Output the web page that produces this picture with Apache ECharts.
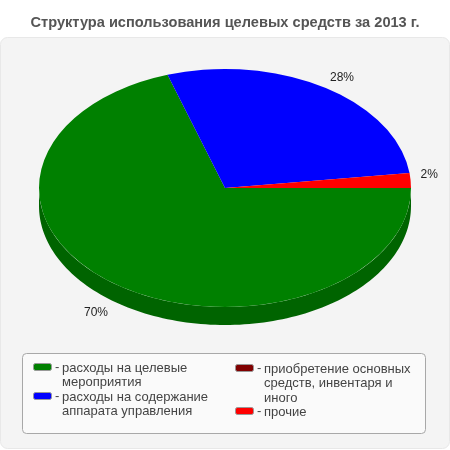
<!DOCTYPE html>
<html><head><meta charset="utf-8">
<style>html,body{margin:0;padding:0;background:#fff}#c{width:450px;height:450px}</style>
<script src="https://cdn.jsdelivr.net/npm/echarts@6/dist/echarts.min.js"></script>
</head><body><div id="c"></div>
<script>
const titleText = 'Структура использования целевых средств за 2013 г.';
const categories = ['расходы на целевые мероприятия','расходы на содержание аппарата управления','приобретение основных средств, инвентаря и иного','прочие'];
const values = [70, 28, 0, 2];
const colors = ['#008000', '#0000ff', '#800000', '#ff0000'];
const legendLines = [
  ['расходы на целевые','мероприятия'],
  ['расходы на содержание','аппарата управления'],
  ['приобретение основных','средств, инвентаря и','иного'],
  ['прочие']
];

const cx = 225, cy = 188, rx = 186, ry = 119, depth = 18;
const total = values.reduce((a, b) => a + b, 0);
const sideShade = 0.78;
function shade(hex) {
  const n = parseInt(hex.slice(1), 16);
  const f = c => Math.round(c * sideShade);
  return 'rgb(' + f(n >> 16) + ',' + f((n >> 8) & 255) + ',' + f(n & 255) + ')';
}
function renderSlice(params, api) {
  const i = api.value(0), v = api.value(1);
  if (!v) return {type: 'group', children: []};
  let before = 0;
  for (let k = 0; k < i; k++) before += values[k];
  const a0 = before / total * Math.PI * 2;
  const a1 = (before + v) / total * Math.PI * 2;
  const children = [];
  if (a0 < Math.PI) {
    const end = Math.min(a1, Math.PI), pts = [];
    const n = 120;
    for (let s = 0; s <= n; s++) {
      const t = a0 + (end - a0) * s / n;
      pts.push([cx + rx * Math.cos(t), cy + ry * Math.sin(t)]);
    }
    for (let s = n; s >= 0; s--) {
      const t = a0 + (end - a0) * s / n;
      pts.push([cx + rx * Math.cos(t), cy + depth + ry * Math.sin(t)]);
    }
    children.push({type: 'polygon', shape: {points: pts}, style: {fill: shade(colors[i])}});
  }
  children.push({
    type: 'group', x: cx, y: cy, scaleY: ry / rx,
    children: [{type: 'sector', shape: {cx: 0, cy: 0, r: rx, r0: 0, startAngle: a0, endAngle: a1, clockwise: true},
      style: {fill: colors[i]}}]
  });
  const mid = (a0 + a1) / 2, cs = Math.cos(mid), sn = Math.sin(mid);
  children.push({
    type: 'text', z2: 50,
    x: cx + (cs >= 0 ? 196 : 199) * cs,
    y: sn > 0 ? cy + depth + 124 * sn : cy + 124 * sn,
    style: {text: v + '%', fill: '#222', font: '12px "Liberation Sans", Arial, sans-serif',
      textAlign: cs >= 0 ? 'left' : 'right', textVerticalAlign: sn > 0 ? 'top' : 'bottom'}
  });
  return {type: 'group', children};
}

const font = '13px "Liberation Sans", Arial, sans-serif';
const legendX = [33, 33, 235, 235];
const legendY = [361, 390, 362, 405];
const lineH = 14.5;
const graphics = [
  {type: 'rect', z: -10, shape: {x: 0.5, y: 37.5, width: 449, height: 411, r: 7}, style: {fill: '#f4f4f4', stroke: '#e8e8e8', lineWidth: 1}},
  {type: 'rect', z: 5, shape: {x: 22.5, y: 353.5, width: 403, height: 80, r: 4}, style: {fill: '#fafafa', stroke: '#a8a8a8', lineWidth: 1}}
];
categories.forEach((c, i) => {
  graphics.push({type: 'rect', z: 6, shape: {x: legendX[i] + 0.5, y: legendY[i] + 2.5, width: 18, height: 7, r: 2},
    style: {fill: colors[i], stroke: '#999', lineWidth: 1}});
  graphics.push({type: 'text', z: 6, x: legendX[i] + 22, y: legendY[i], style: {text: '-', font, fill: '#444'}});
  graphics.push({type: 'text', z: 6, x: legendX[i] + 29, y: legendY[i], style: {text: legendLines[i].join('\n'), font, fill: '#444', lineHeight: lineH}});
});

const chart = echarts.init(document.getElementById('c'), null, {renderer: 'canvas'});
chart.setOption({
  animation: false,
  backgroundColor: '#fff',
  title: {text: titleText, left: 'center', top: 10,
    textStyle: {fontFamily: '"Liberation Sans", Arial, sans-serif', fontWeight: 'bold', fontSize: 14.6, color: '#555'}},
  graphic: graphics,
  series: [{
    type: 'custom', coordinateSystem: 'none', renderItem: renderSlice,
    data: categories.map((c, i) => ({name: c, value: [i, values[i]]}))
  }]
});
</script></body></html>
